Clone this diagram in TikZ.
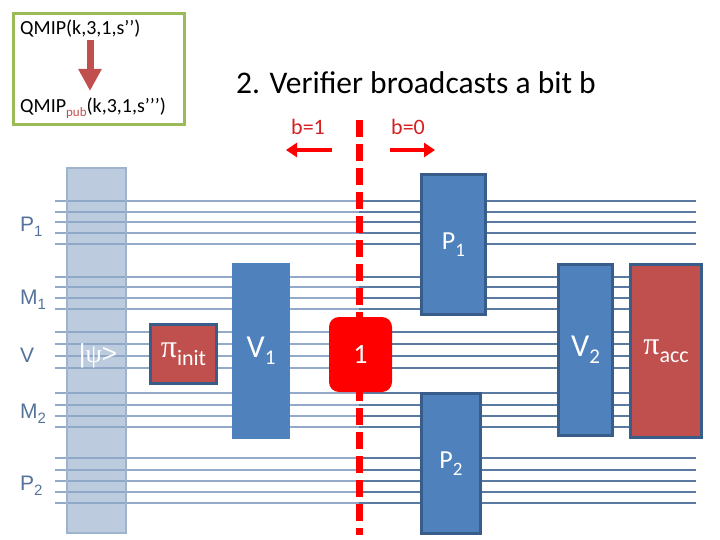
\documentclass[tikz,border=0pt]{standalone}
\usepackage{fontspec}
\setmainfont{Carlito}
\newfontfamily\arialf{Liberation Sans}
\newfontfamily\timesf{Liberation Serif}
\usetikzlibrary{arrows.meta}
\definecolor{boxblue}{HTML}{4F81BD}
\definecolor{boxedge}{HTML}{385D8A}
\definecolor{boxred}{HTML}{C0504D}
\definecolor{framegreen}{HTML}{9BBB59}
\definecolor{wirelight}{HTML}{93AACA}
\definecolor{wiredark}{HTML}{5A7AA2}
\definecolor{labelblue}{HTML}{55739A}
\definecolor{colfill}{HTML}{8FA8C8}
\definecolor{coledge}{HTML}{9FB3CC}
\definecolor{brightred}{HTML}{FF0000}
\definecolor{textred}{HTML}{D42020}
\newcommand\fsz[1]{\fontsize{#1}{#1}\selectfont}
\newcommand\lowsub[3]{\raisebox{-#3pt}{\fsz{#2}#1}}
\begin{document}
\begin{tikzpicture}[x=1pt,y=-1pt,
  box/.style={inner sep=0pt, outer sep=0pt, text=white, anchor=center},
  edged/.style={box, draw=boxedge, line width=3pt},
  bluebox/.style={edged, fill=boxblue},
  redbox/.style={edged, fill=boxred},
  wirel/.style={wirelight, line width=1.3pt},
  wired/.style={wiredark, line width=1.4pt},
  wlabel/.style={anchor=base west, inner sep=0pt, text=labelblue, font=\arialf\fsz{21}},
  plain/.style={anchor=base west, inner sep=0pt},
  redarrow/.style={brightred, line width=4pt, -{Triangle[length=11pt,width=14pt]}},
  dashline/.style={brightred, line width=7pt, dash pattern=on 17pt off 7pt}
]
\useasboundingbox (0,0) rectangle (720,540);

% wires
\foreach \y in {201,212,222,233,244, 277,287,298,309, 332,344,356,368, 393,405,416,427, 458,470,481,492,503}{
  \draw[wirel] (55,\y) -- (359,\y);
  \draw[wired] (359,\y) -- (696,\y);
}

% wire labels
\node[wlabel] (lP1) at (20,232) {P\lowsub{1}{15}{5}};
\node[wlabel] (lM1) at (20,304) {M\lowsub{1}{15}{5}};
\node[wlabel] (lV)  at (20,362) {V};
\node[wlabel] (lM2) at (20,418) {M\lowsub{2}{15}{5}};
\node[wlabel] (lP2) at (20,490) {P\lowsub{2}{15}{5}};

% shaded column
\node[box, fill=colfill, fill opacity=0.6, draw=coledge, line width=2pt,
      minimum width=59pt, minimum height=365pt] (col) at (96.5,350.5) {};
\node[box] (psi) at (98,356) {\fsz{26}{\arialf|}{\timesf ψ}{\arialf >}};

% boxes
\node[redbox, minimum width=66pt, minimum height=59pt] (pinit) at (183.5,354)
  {{\timesf\fsz{32}π}\lowsub{init}{22}{8}};
\node[box, fill=boxblue, minimum width=58pt, minimum height=176pt] (V1) at (261,351)
  {\fsz{32}V\lowsub{1}{21}{7}};

% dashed broadcast line
\coordinate (dtop) at (359,120);
\coordinate (dbot) at (359,535);
\draw[dashline] (dtop) -- (dbot);

\node[box, fill=brightred, rounded corners=10pt, minimum width=63pt, minimum height=75pt] (one) at (360.5,354.5)
  {\fsz{28}1};
\node[bluebox, minimum width=64pt, minimum height=140pt] (P1) at (453.5,244.5)
  {\fsz{26}P\lowsub{1}{19}{7}};
\node[bluebox, minimum width=59pt, minimum height=140pt] (P2) at (451,463.5)
  {\fsz{26}P\lowsub{2}{19}{7}};
\node[bluebox, minimum width=54pt, minimum height=171pt] (V2) at (585.5,350)
  {\fsz{32}V\lowsub{2}{21}{7}};
\node[redbox, minimum width=71pt, minimum height=173pt] (pacc) at (666,351)
  {{\timesf\fsz{32}π}\lowsub{acc}{22}{8}};

% green frame
\node[box, draw=framegreen, line width=3pt, minimum width=171pt, minimum height=111pt] (frame) at (99,69) {};
\node[plain] (q1) at (20,35) {\fsz{20}QMIP(k,3,1,s’’)};
\node[plain] (q2) at (20,113) {\fsz{20}QMIP\lowsub{\textcolor{boxred}{pub}}{13}{4}(k,3,1,s’’’)};
\coordinate (qa) at (90,40);
\coordinate (qb) at (90,91);
\draw[boxred, line width=7pt, -{Triangle[length=22pt,width=22pt]}] (qa) -- (qb);

% title and bit arrows
\node[plain] (title) at (236,94) {\fsz{31.5}2. Verifier broadcasts a bit b};
\node[plain, text=textred] (b1) at (291,135) {\fsz{22}b=1};
\node[plain, text=textred] (b0) at (391,135) {\fsz{22}b=0};
\coordinate (l1) at (332,150);
\coordinate (l2) at (286,150);
\coordinate (r1) at (390,150);
\coordinate (r2) at (435,150);
\draw[redarrow] (l1) -- (l2);
\draw[redarrow] (r1) -- (r2);
\end{tikzpicture}
\end{document}
